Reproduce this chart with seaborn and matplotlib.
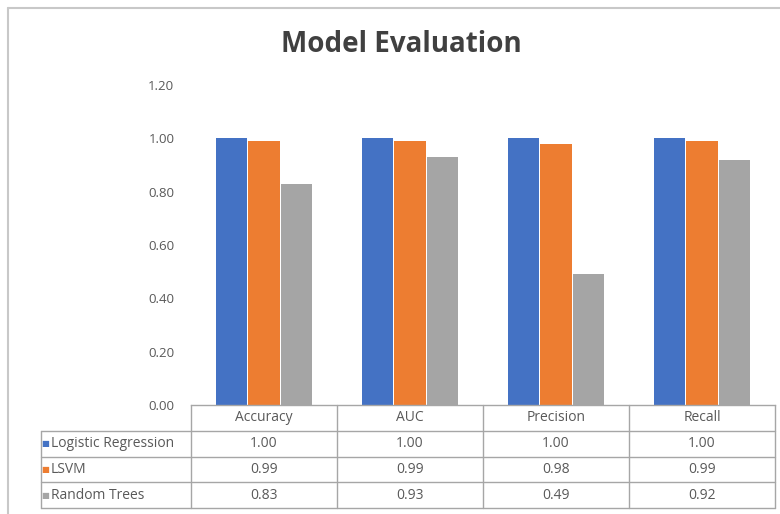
import numpy as np
import pandas as pd
import seaborn as sns
import matplotlib.pyplot as plt
import matplotlib.transforms as mtransforms
from matplotlib.lines import Line2D

metrics = ["Accuracy", "AUC", "Precision", "Recall"]
models = ["Logistic Regression", "LSVM", "Random Trees"]
logistic = [1.00, 1.00, 1.00, 1.00]
lsvm = [0.99, 0.99, 0.98, 0.99]
random_trees = [0.83, 0.93, 0.49, 0.92]
colors = ["#4472C4", "#ED7D31", "#A5A5A5"]
yticks = [0.0, 0.2, 0.4, 0.6, 0.8, 1.0, 1.2]

scores = [logistic, lsvm, random_trees]
df = pd.DataFrame({
    "Metric": metrics * len(models),
    "Model": np.repeat(models, len(metrics)),
    "Score": logistic + lsvm + random_trees,
})

sns.set_style("white")
plt.rcParams["font.family"] = ["Open Sans", "DejaVu Sans"]

W, H = 780, 514
fig = plt.figure(figsize=(7.8, 5.14), dpi=100)
ax = fig.add_axes([191 / W, 1 - 405 / H, 584 / W, 320 / H])

sns.barplot(data=df, x="Metric", y="Score", hue="Model", palette=colors,
            width=0.665, gap=0.04, saturation=1, linewidth=0, legend=False, ax=ax)

ax.set_ylim(0, 1.2)
ax.set_xlim(-0.5, len(metrics) - 0.5)
ax.set_yticks(yticks)
ax.set_yticklabels([f"{v:.2f}" for v in yticks])
ax.tick_params(axis="y", length=0, pad=12, labelsize=9.5, labelcolor="#595959")
ax.set_xticks([])
ax.set_xlabel("")
ax.set_ylabel("")
for s in ["left", "right", "top"]:
    ax.spines[s].set_visible(False)
ax.spines["bottom"].set_color("#A6A6A6")
ax.spines["bottom"].set_linewidth(1.0)

# data table under the plot (x in data units, y in axes fraction)
tr = mtransforms.blended_transform_factory(ax.transData, ax.transAxes)
rh = 25.75 / 320
left = -0.5 - 150 * (len(metrics) / 584)
right = len(metrics) - 0.5
line_kw = dict(color="#A6A6A6", lw=1.0, transform=tr, clip_on=False)
nrows = len(models)
for r in range(1, nrows + 2):
    ax.add_line(Line2D([left, right], [-r * rh, -r * rh], **line_kw))
ax.add_line(Line2D([left, left], [-rh, -(nrows + 1) * rh], **line_kw))
for c in range(len(metrics) + 1):
    x = c - 0.5
    ax.add_line(Line2D([x, x], [0, -(nrows + 1) * rh], **line_kw))

txt_kw = dict(transform=tr, color="#595959", fontsize=10, va="center", clip_on=False)
for i, m in enumerate(metrics):
    ax.text(i, -0.5 * rh, m, ha="center", **txt_kw)
for r, (name, vals) in enumerate(zip(models, scores)):
    y = -(r + 1.5) * rh
    ax.text(left + 0.03, y, "\u25a0", ha="center", transform=tr, color=colors[r],
            fontsize=6, va="center", clip_on=False, family="DejaVu Sans")
    ax.text(left + 0.068, y, name, ha="left", **txt_kw)
    for i, v in enumerate(vals):
        ax.text(i, y, f"{v:.2f}", ha="center", **txt_kw)

fig.text(401 / W, 1 - 44 / H, "Model Evaluation", ha="center", va="center",
         fontsize=20, fontweight="bold", color="#404040")

# chart area border
fig.add_artist(Line2D([8 / W, 8 / W], [0, 1 - 8 / H], color="#C8C8C8", lw=1.5,
                      transform=fig.transFigure))
fig.add_artist(Line2D([8 / W, 1], [1 - 8 / H, 1 - 8 / H], color="#C8C8C8", lw=1.5,
                      transform=fig.transFigure))

fig.savefig("out.png", dpi=100)
